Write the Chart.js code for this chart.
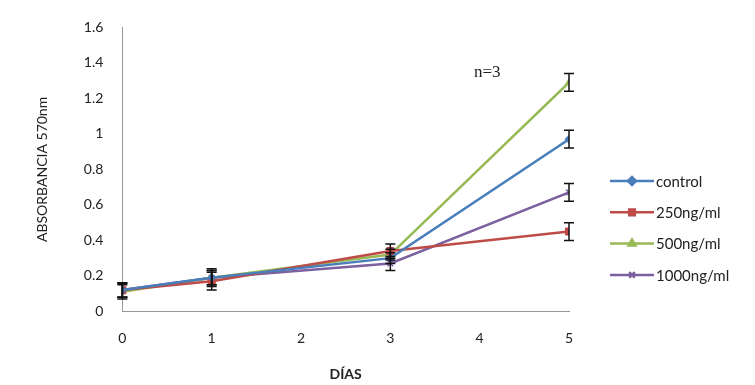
<!DOCTYPE html>
<html>
<head>
<meta charset="utf-8">
<script src="https://cdn.jsdelivr.net/npm/chart.js@4"></script>
<style>
    html, body { margin: 0; padding: 0; background: #fff; }
    #wrap { width: 755px; height: 385px; }
</style>
</head>
<body>
<div id="wrap"><canvas id="chartAbs"></canvas></div>
<script>
const days = [0, 1, 3, 5];
const seriesNames = ['control', '250ng/ml', '500ng/ml', '1000ng/ml'];
const controlVals = [0.12, 0.19, 0.30, 0.97];
const d250Vals = [0.12, 0.17, 0.34, 0.45];
const d500Vals = [0.11, 0.19, 0.32, 1.29];
const d1000Vals = [0.12, 0.19, 0.27, 0.67];
const controlErr = [0.04, 0.04, 0.03, 0.05];
const d250Err = [0.04, 0.05, 0.04, 0.05];
const d500Err = [0.04, 0.05, 0.03, 0.05];
const d1000Err = [0.04, 0.04, 0.04, 0.05];
const yTicks = [0, 0.2, 0.4, 0.6, 0.8, 1, 1.2, 1.4, 1.6];

const colors = ['#4a7ebb', '#be4b48', '#98b954', '#7d60a0'];
const markers = ['rectRot', 'rect', 'triangle', 'crossRot'];
const values = [controlVals, d250Vals, d500Vals, d1000Vals];
const errors = [controlErr, d250Err, d500Err, d1000Err];

const tickFont = { family: 'Lato, "Open Sans", sans-serif', size: 14 };

const errorBars = {
    id: 'errorBars',
    afterDatasetsDraw(chart) {
        const { ctx, scales } = chart;
        ctx.save();
        ctx.strokeStyle = '#111';
        ctx.lineWidth = 1.5;
        chart.data.datasets.forEach((ds) => {
            ds.data.forEach((pt) => {
                const x = scales.x.getPixelForValue(pt.x);
                const top = scales.y.getPixelForValue(pt.y + pt.err);
                const bot = scales.y.getPixelForValue(pt.y - pt.err);
                ctx.beginPath();
                ctx.moveTo(x, top);
                ctx.lineTo(x, bot);
                ctx.moveTo(x - 5, top);
                ctx.lineTo(x + 5, top);
                ctx.moveTo(x - 5, bot);
                ctx.lineTo(x + 5, bot);
                ctx.stroke();
            });
        });
        ctx.restore();
    },
};

const sideLegend = {
    id: 'sideLegend',
    afterDraw(chart) {
        const { ctx } = chart;
        ctx.save();
        ctx.font = '15px Lato, "Open Sans", sans-serif';
        ctx.textBaseline = 'middle';
        chart.data.datasets.forEach((ds, i) => {
            const y = 181 + i * 31.3;
            const x0 = 610;
            ctx.strokeStyle = ds.borderColor;
            ctx.fillStyle = ds.backgroundColor;
            ctx.lineWidth = 2.5;
            ctx.beginPath();
            ctx.moveTo(x0, y);
            ctx.lineTo(x0 + 44, y);
            ctx.stroke();
            Chart.helpers.drawPoint(ctx, {
                pointStyle: ds.pointStyle,
                radius: 4,
                borderWidth: ds.pointStyle === 'crossRot' ? 1.5 : 1,
            }, x0 + 22, y);
            ctx.fillStyle = '#222';
            ctx.fillText(ds.label, x0 + 46, y + 1);
        });
        // n=3 note
        ctx.font = '17px "Liberation Serif", serif';
        ctx.fillStyle = '#222';
        ctx.textBaseline = 'alphabetic';
        ctx.fillText('n=3', 474, 77);
        ctx.restore();
    },
};

new Chart(document.getElementById('chartAbs'), {
    type: 'line',
    data: {
        datasets: seriesNames.map((name, i) => ({
            label: name,
            data: days.map((d, j) => ({ x: d, y: values[i][j], err: errors[i][j] })),
            borderColor: colors[i],
            backgroundColor: colors[i],
            pointStyle: markers[i],
            pointRadius: markers[i] === 'rect' ? 5 : 4,
            pointBorderWidth: markers[i] === 'crossRot' ? 1.5 : 1,
            borderWidth: 2.5,
            tension: 0,
        })),
    },
    options: {
        responsive: true,
        maintainAspectRatio: false,
        animation: false,
        layout: { padding: { top: 24, right: 186, left: 34, bottom: 2 } },
        plugins: {
            legend: { display: false },
            tooltip: { enabled: false },
        },
        scales: {
            x: {
                type: 'linear',
                min: 0,
                max: 5,
                grid: { display: false, drawTicks: false },
                border: { color: '#999', width: 1 },
                ticks: {
                    stepSize: 1,
                    padding: 19,
                    color: '#222',
                    font: tickFont,
                },
                title: {
                    display: true,
                    text: 'DÍAS',
                    color: '#222',
                    font: { ...tickFont, weight: 'bold' },
                    padding: { top: 0, bottom: 0 },
                },
            },
            y: {
                min: 0,
                max: 1.6,
                afterBuildTicks: (axis) => {
                    axis.ticks = yTicks.map((v) => ({ value: v }));
                },
                grid: { display: false, drawTicks: false },
                border: { color: '#999', width: 1 },
                ticks: {
                    padding: 19,
                    color: '#222',
                    font: tickFont,
                    callback: (v) => String(Math.round(v * 10) / 10),
                },
                title: {
                    display: true,
                    text: 'ABSORBANCIA 570nm',
                    color: '#222',
                    font: { family: tickFont.family, size: 14 },
                    padding: { top: 0, bottom: 14 },
                },
            },
        },
    },
    plugins: [errorBars, sideLegend],
});
</script>
</body>
</html>
